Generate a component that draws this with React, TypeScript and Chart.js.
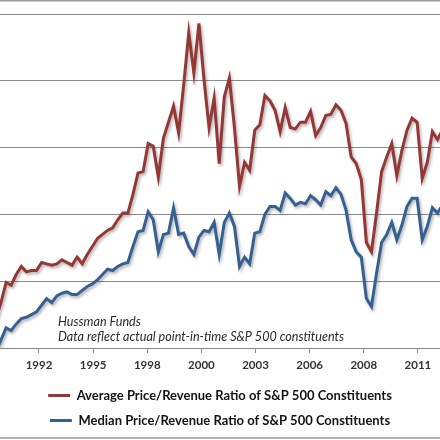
import React, { useEffect, useRef } from "react";
import { Chart, registerables } from "chart.js";

Chart.register(...registerables);

// First quarter plotted (fractional year) and quarterly step
const firstQuarter = 1990.75;
const quarterStep = 0.25;

const averageRatio = [
  0.72, 0.84, 0.99, 0.97, 1.05, 1.11, 1.07, 1.08, 1.08, 1.14,
  1.13, 1.12, 1.13, 1.16, 1.14, 1.12, 1.18, 1.13, 1.20, 1.26,
  1.32, 1.35, 1.38, 1.40, 1.46, 1.51, 1.51, 1.65, 1.81, 1.82,
  2.03, 2.01, 1.78, 2.07, 2.19, 2.31, 2.11, 2.47, 2.86, 2.56,
  2.93, 2.51, 2.15, 2.37, 1.88, 2.38, 2.52, 2.15, 1.71, 1.89,
  1.83, 2.13, 2.17, 2.39, 2.35, 2.28, 2.12, 2.30, 2.15, 2.14,
  2.19, 2.19, 2.27, 2.09, 2.15, 2.24, 2.25, 2.32, 2.28, 2.18,
  1.93, 1.88, 1.76, 1.29, 1.22, 1.51, 1.82, 1.93, 2.03, 1.79,
  1.98, 2.13, 2.22, 2.19, 1.77, 1.89, 2.12, 2.06, 2.13,
];

const medianRatio = [
  0.47, 0.56, 0.65, 0.63, 0.68, 0.72, 0.73, 0.75, 0.77, 0.82,
  0.87, 0.84, 0.89, 0.91, 0.92, 0.90, 0.90, 0.93, 0.96, 0.98,
  1.01, 1.05, 1.09, 1.08, 1.11, 1.13, 1.14, 1.26, 1.37, 1.38,
  1.52, 1.46, 1.22, 1.35, 1.36, 1.55, 1.35, 1.36, 1.26, 1.20,
  1.33, 1.38, 1.37, 1.44, 1.20, 1.44, 1.51, 1.41, 1.11, 1.18,
  1.13, 1.36, 1.37, 1.50, 1.56, 1.56, 1.53, 1.66, 1.62, 1.57,
  1.59, 1.58, 1.64, 1.61, 1.57, 1.67, 1.64, 1.70, 1.65, 1.53,
  1.31, 1.22, 1.18, 0.87, 0.81, 1.06, 1.29, 1.35, 1.44, 1.31,
  1.42, 1.56, 1.62, 1.62, 1.31, 1.41, 1.55, 1.51, 1.57,
];

const tickLabels = ["1992", "1995", "1998", "2000", "2003", "2006", "2008", "2011"];
const firstTick = 1992.872;
const tickStep = 32 / 12;

const xMin = 1990.951;
const xMax = 2012.626;

const seriesNames = [
  "Average Price/Revenue Ratio of S&P 500 Constituents",
  "Median Price/Revenue Ratio of S&P 500 Constituents",
];
const noteLines = ["Hussman Funds", "Data reflect actual point-in-time S&P 500 constituents"];

const RED = "#953735";
const BLUE = "#376092";
const GRID = "#8c8c8c";

const toPoints = (vals: number[]) =>
  vals.map((v, i) => ({ x: firstQuarter + i * quarterStep, y: v }));

export default function App() {
  const ref = useRef<HTMLCanvasElement | null>(null);

  useEffect(() => {
    if (!ref.current) return;

    const shadowPlugin = {
      id: "lineShadow",
      beforeDatasetsDraw(chart: any) {
        const ctx = chart.ctx;
        ctx.save();
        ctx.shadowColor = "rgba(0,0,0,0.3)";
        ctx.shadowBlur = 3;
        ctx.shadowOffsetX = 1.5;
        ctx.shadowOffsetY = 2;
      },
      afterDatasetsDraw(chart: any) {
        chart.ctx.restore();
      },
    };

    const notePlugin = {
      id: "notes",
      afterDraw(chart: any) {
        const ctx = chart.ctx;
        ctx.save();
        ctx.fillStyle = "#2a2a2a";
        ctx.font = "italic 12.6px Lato";
        ctx.textBaseline = "alphabetic";
        ctx.textAlign = "left";
        ctx.fillText(noteLines[0], 58, 326);
        ctx.fillText(noteLines[1], 58, 341);
        ctx.strokeStyle = "#9a9a9a";
        ctx.lineWidth = 1.5;
        ctx.beginPath();
        ctx.moveTo(0, 0.75);
        ctx.lineTo(440, 0.75);
        ctx.moveTo(0, 438);
        ctx.lineTo(440, 438);
        ctx.stroke();
        ctx.restore();
      },
    };

    const chart = new Chart(ref.current, {
      type: "line",
      data: {
        datasets: [
          {
            label: seriesNames[0],
            data: toPoints(averageRatio),
            borderColor: RED,
            backgroundColor: RED,
            borderWidth: 3,
            pointRadius: 0,
            tension: 0,
          },
          {
            label: seriesNames[1],
            data: toPoints(medianRatio),
            borderColor: BLUE,
            backgroundColor: BLUE,
            borderWidth: 3,
            pointRadius: 0,
            tension: 0,
          },
        ],
      },
      options: {
        animation: false,
        responsive: false,
        devicePixelRatio: 1,
        layout: { padding: { left: 0, right: 0, top: 14, bottom: 3 } },
        plugins: {
          legend: {
            display: true,
            position: "bottom",
            labels: {
              usePointStyle: true,
              pointStyle: "line",
              pointStyleWidth: 22,
              padding: 12,
              color: "#141414",
              font: { family: "Lato", size: 13, weight: "bold" },
            },
          },
          tooltip: { enabled: false },
        },
        scales: {
          x: {
            type: "linear",
            min: xMin,
            max: xMax,
            afterBuildTicks: (scale: any) => {
              scale.ticks = tickLabels.map((_, i) => ({ value: firstTick + i * tickStep }));
            },
            afterFit: (scale: any) => {
              scale.height = 29;
            },
            ticks: {
              autoSkip: false,
              maxRotation: 0,
              padding: 5,
              color: "#333333",
              font: { family: "Lato", size: 11.5, weight: "bold" },
              callback: (_v: any, i: number) => tickLabels[i],
            },
            grid: {
              drawOnChartArea: false,
              drawTicks: true,
              tickLength: 5,
              color: GRID,
            },
            border: { display: true, color: GRID, width: 1 },
          },
          y: {
            min: 0.5,
            max: 3.0,
            afterFit: (scale: any) => {
              scale.width = 0;
            },
            ticks: { display: false, stepSize: 0.5 },
            grid: { drawTicks: false, color: GRID, lineWidth: 1 },
            border: { display: false },
          },
        },
      },
      plugins: [shadowPlugin, notePlugin],
    });

    return () => chart.destroy();
  }, []);

  return (
    <div style={{ position: "fixed", left: 0, top: 0, width: 440, height: 440, background: "#fff" }}>
      <canvas ref={ref} width={440} height={440} style={{ width: 440, height: 440, display: "block" }} />
    </div>
  );
}
